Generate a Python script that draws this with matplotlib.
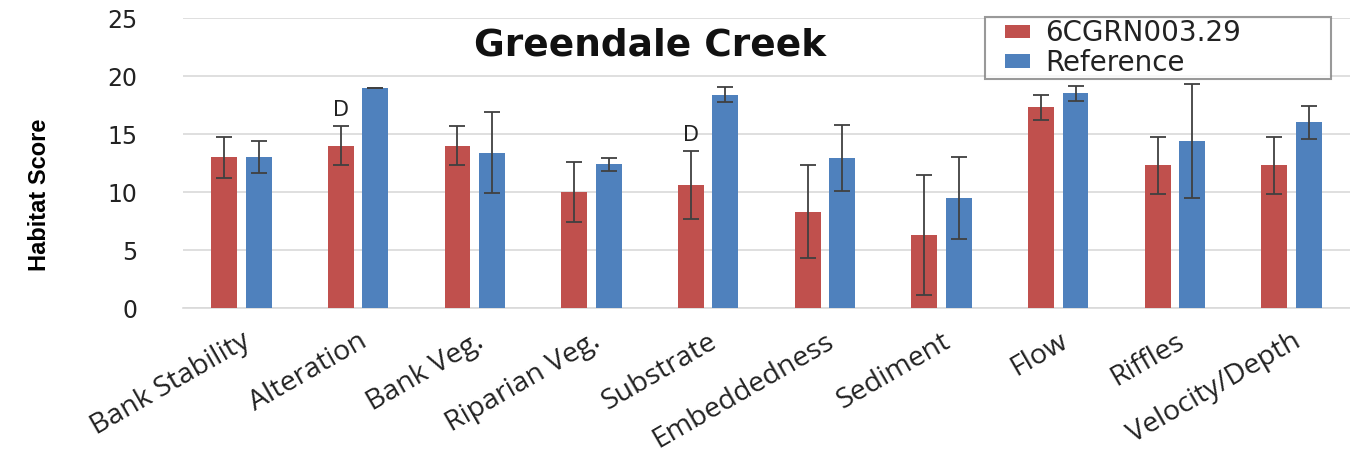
import numpy as np
import matplotlib
matplotlib.use("Agg")
import matplotlib.pyplot as plt
from matplotlib.patches import Rectangle
from matplotlib.container import BarContainer
from matplotlib.legend_handler import HandlerPatch, update_from_first_child

# Habitat scores
categories = ["Bank Stability", "Alteration", "Bank Veg.", "Riparian Veg.", "Substrate",
              "Embeddedness", "Sediment", "Flow", "Riffles", "Velocity/Depth"]
site_scores = [13.0, 14.0, 14.0, 10.0, 10.6, 8.3, 6.3, 17.3, 12.3, 12.3]
site_err = [1.75, 1.7, 1.7, 2.6, 2.9, 4.0, 5.15, 1.1, 2.45, 2.45]
ref_scores = [13.0, 19.0, 13.4, 12.4, 18.4, 12.9, 9.5, 18.5, 14.4, 16.0]
ref_err = [1.4, 0.0, 3.5, 0.55, 0.65, 2.85, 3.55, 0.65, 4.95, 1.45]
flags = ["", "D", "", "", "D", "", "", "", "", ""]
yticks = [0, 5, 10, 15, 20, 25]

red = "#C0504D"
blue = "#4F81BD"

fig = plt.figure(figsize=(13.5, 4.58), dpi=100)
ax = fig.add_axes([183 / 1350, 150 / 458, 1167 / 1350, 290 / 458])

x = np.arange(len(categories))
off = 0.148
w = 0.222
err_kw = dict(ecolor="#404040", elinewidth=1.3, capsize=5.8, capthick=1.3)

ax.bar(x - off, site_scores, w, color=red, yerr=site_err, error_kw=err_kw,
       label="6CGRN003.29", zorder=3)
ax.bar(x + off, ref_scores, w, color=blue, yerr=ref_err, error_kw=err_kw,
       label="Reference", zorder=3)

# significance letters above site bars
for i, f in enumerate(flags):
    if f:
        ax.text(x[i] - off, site_scores[i] + site_err[i] + 1.4, f, ha="center", va="center",
                fontsize=15, color="#222222", zorder=4)

ax.set_xlim(-0.5, len(categories) - 0.5)
ax.set_ylim(0, 25)
ax.set_yticks(yticks)
ax.set_yticklabels([str(t) for t in yticks], fontsize=17, color="#222222")
ax.tick_params(axis="y", length=0, pad=33)
ax.tick_params(axis="x", length=0, pad=14)
ax.set_xticks(x)
ax.set_xticklabels(categories, rotation=30, ha="right", rotation_mode="anchor",
                   fontsize=20.5, family="Open Sans", color="#222222")
ax.grid(axis="y", color="#d9d9d9", linewidth=1.2, zorder=0)
for s in ["top", "right", "left"]:
    ax.spines[s].set_visible(False)
ax.spines["bottom"].set_color("#d9d9d9")
ax.spines["bottom"].set_linewidth(1.2)

ax.text(0.40, 0.905, "Greendale Creek", transform=ax.transAxes, ha="center", va="center",
        fontsize=27, fontweight="bold", color="#111111")

fig.text(40 / 1350, 1 - 195 / 458, "Habitat Score", rotation=90, ha="center", va="center",
         fontsize=17, fontweight="bold", family="Liberation Sans")


def square_patch(legend, orig_handle, xdescent, ydescent, width, height, fontsize):
    pw = 18
    ph = 9.5
    return Rectangle((-xdescent + width - pw, -ydescent + (height - ph) / 2), pw, ph)


leg = ax.legend(loc="upper left", bbox_to_anchor=(0.687, 0.797, 0.297, 0.206), mode="expand",
                fontsize=20, frameon=True, fancybox=False, handlelength=1.55, handleheight=0.7,
                handletextpad=0.55, borderaxespad=0, borderpad=0.08, labelspacing=0.05,
                handler_map={BarContainer: HandlerPatch(patch_func=square_patch,
                                                        update_func=update_from_first_child)})
leg.get_frame().set_edgecolor("#808080")
leg.get_frame().set_linewidth(1.5)
for t in leg.get_texts():
    t.set_color("#222222")

fig.savefig("out.png", dpi=100)
